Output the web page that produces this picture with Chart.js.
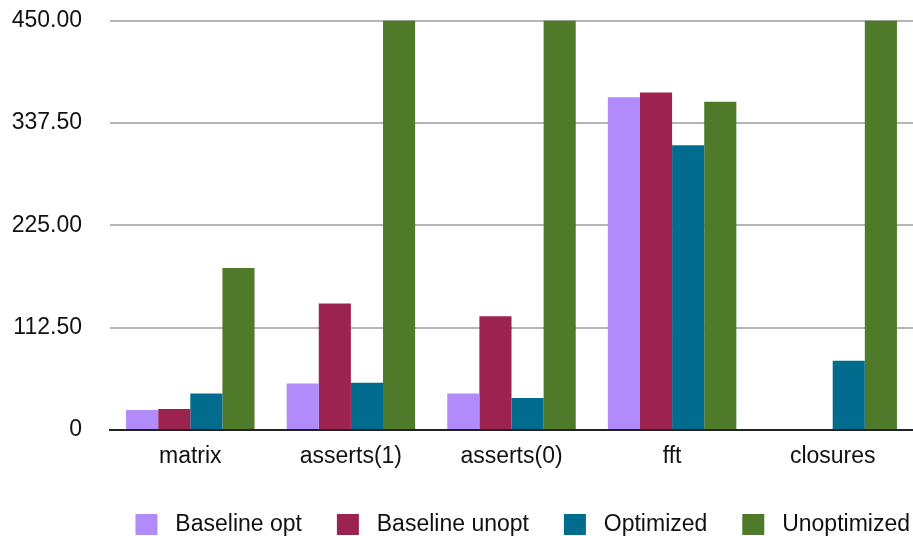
<!DOCTYPE html>
<html>
<head>
<meta charset="utf-8">
<script src="https://cdn.jsdelivr.net/npm/chart.js@4"></script>
<style>
  html, body { margin: 0; padding: 0; background: #fff; overflow: hidden; }
  #page { width: 913px; height: 536px; overflow: hidden; }
  /* canvas is a bit taller than the page so the plot can reach the top edge like the original */
  #wrap { width: 913px; height: 571px; margin-top: -21px; }
</style>
</head>
<body>
<div id="page"><div id="wrap"><canvas id="benchChart"></canvas></div></div>
<script>
const categories = ['matrix', 'asserts(1)', 'asserts(0)', 'fft', 'closures'];
const baselineOpt = [22, 51, 40, 366, 0];
const baselineUnopt = [23, 139, 125, 371, 0];
const optimized = [40, 52, 35, 313, 76];
// these run off the top of the axis in the original
const unoptimized = [178, 620, 620, 361, 620];
const yTicks = [0, 112.5, 225, 337.5, 450];

const FONT = '"Liberation Sans", Arial, Helvetica, sans-serif';

const ctx = document.getElementById('benchChart').getContext('2d');

new Chart(ctx, {
    type: 'bar',
    data: {
        labels: categories,
        datasets: [
            { label: 'Baseline opt', data: baselineOpt, backgroundColor: '#b18bfa' },
            { label: 'Baseline unopt', data: baselineUnopt, backgroundColor: '#9c2350' },
            { label: 'Optimized', data: optimized, backgroundColor: '#016c8e' },
            { label: 'Unoptimized', data: unoptimized, backgroundColor: '#4e7a2a' }
        ]
    },
    options: {
        responsive: true,
        maintainAspectRatio: false,
        animation: false,
        layout: { padding: { top: 2, right: 0, left: 0, bottom: 4 } },
        datasets: {
            bar: { barPercentage: 1.0, categoryPercentage: 0.8 }
        },
        plugins: {
            tooltip: { enabled: false },
            legend: {
                position: 'bottom',
                align: 'end',
                labels: {
                    color: '#111',
                    font: { family: FONT, size: 23 },
                    boxWidth: 22,
                    boxHeight: 21,
                    padding: 3,
                    generateLabels: function (chart) {
                        const items = Chart.defaults.plugins.legend.labels.generateLabels(chart);
                        const last = items.length - 1;
                        items.forEach((it, i) => {
                            // extra spaces stand in for the wider gaps of the original legend
                            it.text = ' ' + it.text + (i < last ? '     ' : '');
                            it.lineWidth = 0;
                        });
                        return items;
                    }
                }
            }
        },
        scales: {
            x: {
                grid: { display: false },
                border: { display: true, color: '#222', width: 2 },
                ticks: { color: '#111', font: { family: FONT, size: 23 }, padding: 5 },
                afterFit: function (axis) { axis.height += 34.5; }
            },
            y: {
                min: 0,
                max: 450,
                afterBuildTicks: function (axis) {
                    axis.ticks = yTicks.map(v => ({ value: v }));
                },
                afterFit: function (axis) { axis.width = 110; },
                border: { display: false },
                grid: {
                    drawTicks: false,
                    color: '#b5b5b5',
                    lineWidth: 2
                },
                ticks: {
                    color: '#111',
                    font: { family: FONT, size: 23 },
                    padding: 28,
                    callback: function (value) {
                        return value === 0 ? '0' : value.toFixed(2);
                    }
                }
            }
        }
    }
});
</script>
</body>
</html>
